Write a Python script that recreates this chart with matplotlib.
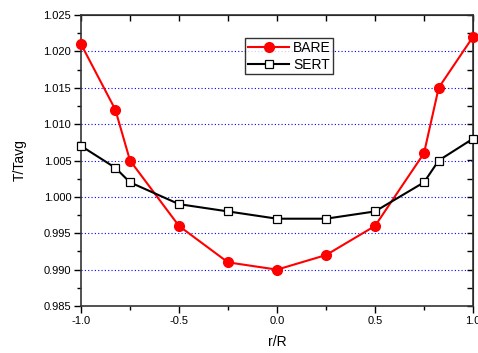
import matplotlib
matplotlib.use("Agg")
import matplotlib.pyplot as plt
from matplotlib.ticker import MultipleLocator, FormatStrFormatter

plt.rcParams['font.family'] = ['Liberation Sans', 'DejaVu Sans']

# r/R positions
r = [-1.0, -0.825, -0.75, -0.5, -0.25, 0.0, 0.25, 0.5, 0.75, 0.825, 1.0]
bare = [1.021, 1.012, 1.005, 0.996, 0.991, 0.990, 0.992, 0.996, 1.006, 1.015, 1.022]
sert = [1.007, 1.004, 1.002, 0.999, 0.998, 0.997, 0.997, 0.998, 1.002, 1.005, 1.008]
grid_y = [0.990, 0.995, 1.000, 1.005, 1.010, 1.015, 1.020]

fig = plt.figure(figsize=(4.78, 3.53), dpi=100)
ax = fig.add_axes([81 / 478, 1 - 306 / 353, 392 / 478, 291 / 353])

# dotted blue grid at the inner major ticks
for yv in grid_y:
    ax.axhline(yv, color='#0000ff', linestyle=(0, (1, 2)), linewidth=0.8, zorder=0)

ax.plot(r, bare, color='#ff0000', linewidth=1.5, marker='o', markersize=7,
        markerfacecolor='#ff0000', markeredgecolor='#ff0000', label='BARE', clip_on=False, zorder=3)
ax.plot(r, sert, color='black', linewidth=1.5, marker='s', markersize=5.5,
        markerfacecolor='white', markeredgecolor='black', markeredgewidth=0.9,
        label='SERT', clip_on=False, zorder=4)

ax.set_xlim(-1.0, 1.0)
ax.set_ylim(0.985, 1.025)
ax.xaxis.set_major_locator(MultipleLocator(0.5))
ax.xaxis.set_minor_locator(MultipleLocator(0.25))
ax.yaxis.set_major_locator(MultipleLocator(0.005))
ax.yaxis.set_minor_locator(MultipleLocator(0.0025))
ax.xaxis.set_major_formatter(FormatStrFormatter('%.1f'))
ax.yaxis.set_major_formatter(FormatStrFormatter('%.3f'))

ax.tick_params(which='both', direction='out', top=False, right=False, labelsize=8, width=1)
ax.tick_params(which='major', length=5, pad=2)
ax.tick_params(which='minor', length=3)

# inward ticks on top and right
ax2 = ax.secondary_xaxis('top')
ax2.xaxis.set_major_locator(MultipleLocator(0.25))
ax2.tick_params(direction='in', length=4, labeltop=False, width=1)
ax3 = ax.secondary_yaxis('right')
ax3.yaxis.set_major_locator(MultipleLocator(0.0025))
ax3.tick_params(direction='in', length=4, labelright=False, width=1)

for s in ax.spines.values():
    s.set_linewidth(1.2)
    s.set_color('#333333')

ax.set_xlabel('r/R', fontsize=10, labelpad=7)
ax.set_ylabel('T/Tavg', fontsize=10, labelpad=12)

leg = ax.legend(loc='upper left', bbox_to_anchor=(164 / 392, 1 - 23 / 291), fontsize=10,
                frameon=True, fancybox=False, edgecolor='black', handlelength=3,
                borderpad=0.2, labelspacing=0.2, handletextpad=0.25, borderaxespad=0)
leg.get_frame().set_linewidth(1.0)

fig.savefig('out.png', dpi=100)
